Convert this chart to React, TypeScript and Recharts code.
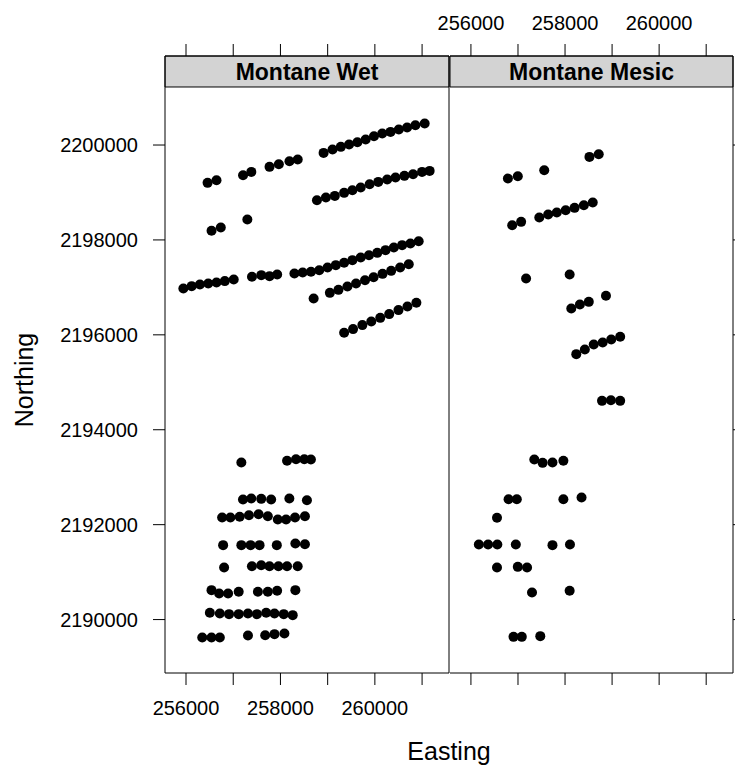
import { ScatterChart, Scatter, XAxis, YAxis, ReferenceArea } from 'recharts'

const X_DOMAIN: [number, number] = [255555, 261570]
const Y_DOMAIN: [number, number] = [2188874, 2201876]
const STRIP_BOTTOM = 2201223
const X_TICKS = [256000, 257000, 258000, 259000, 260000, 261000]
const Y_TICKS = [2190000, 2192000, 2194000, 2196000, 2198000, 2200000]
const PANELS = ['Montane Wet', 'Montane Mesic']

// Montane Wet
const wetEasting = [
  258914, 259103, 259279, 259454, 259630, 259805, 259981, 260156, 260332, 260507, 260683, 260858, 261055,
  256457, 256646, 257208, 257383, 257769, 257966, 258191, 258366,
  258773, 258963, 259152, 259349, 259524, 259700, 259889, 260072, 260261, 260437, 260626, 260809, 260999, 261160,
  256541, 256737, 257299,
  255944, 256120, 256295, 256471, 256646, 256822, 257011,
  257397, 257594, 257769, 257931,
  258296, 258471, 258647, 258822, 258998, 259173, 259349, 259524, 259700, 259875, 260051, 260226, 260402, 260577, 260753, 260928,
  258703,
  259047, 259229, 259419, 259601, 259791, 259973, 260163, 260345, 260535, 260718,
  259349, 259538, 259735, 259924, 260114, 260304, 260500, 260690, 260879,
  257172, 258140, 258330, 258505, 258645,
  257207, 257382, 257593, 257803, 258189, 258561,
  256765, 256940, 257137, 257333, 257537, 257733, 257944, 258119, 258309, 258519,
  256786, 257172, 257368, 257558, 257923, 258316, 258519,
  256807, 257396, 257593, 257768, 257958, 258140, 258365,
  256540, 256702, 256891, 257116, 257523, 257733, 257930, 258316,
  256505, 256716, 256912, 257116, 257312, 257502, 257698, 257874, 258070, 258260,
  256344, 256540, 256716, 257312, 257677, 257874, 258084,
]
const wetNorthing = [
  2199834, 2199905, 2199961, 2200010, 2200059, 2200115, 2200185, 2200242, 2200277, 2200326, 2200368, 2200417, 2200452,
  2199203, 2199259, 2199364, 2199434, 2199540, 2199596, 2199659, 2199694,
  2198838, 2198894, 2198928, 2198992, 2199048, 2199104, 2199174, 2199223, 2199272, 2199314, 2199350, 2199385, 2199434, 2199455,
  2198192, 2198262, 2198430,
  2196977, 2197026, 2197062, 2197083, 2197104, 2197132, 2197167,
  2197223, 2197258, 2197237, 2197272,
  2197293, 2197314, 2197328, 2197363, 2197420, 2197469, 2197518, 2197574, 2197630, 2197679, 2197728, 2197785, 2197841, 2197890, 2197925, 2197974,
  2196767,
  2196885, 2196948, 2197018, 2197081, 2197151, 2197215, 2197285, 2197348, 2197418, 2197489,
  2196044, 2196121, 2196205, 2196282, 2196358, 2196437, 2196521, 2196598, 2196675,
  2193309, 2193345, 2193380, 2193380, 2193373,
  2192530, 2192551, 2192544, 2192530, 2192551, 2192516,
  2192151, 2192151, 2192165, 2192200, 2192221, 2192179, 2192109, 2192109, 2192151, 2192179,
  2191568, 2191568, 2191568, 2191568, 2191568, 2191603, 2191589,
  2191097, 2191125, 2191146, 2191125, 2191125, 2191125, 2191125,
  2190620, 2190549, 2190549, 2190585, 2190585, 2190585, 2190606, 2190620,
  2190142, 2190128, 2190114, 2190114, 2190128, 2190114, 2190142, 2190128, 2190114, 2190093,
  2189622, 2189622, 2189622, 2189664, 2189671, 2189693, 2189707,
]

// Montane Mesic
const mesicEasting = [
  256786, 256996, 257558, 258519, 258716,
  256877, 257067, 257453, 257642, 257825, 258014, 258203, 258400, 258589,
  257172, 258098,
  258133, 258316, 258505, 258870,
  258239, 258421, 258610, 258800, 258982, 259172,
  258786, 258975, 259172,
  257347, 257523, 257733, 257965,
  256800, 256975, 257965, 258351,
  256554,
  256168, 256365, 256561, 256954, 257733, 258105,
  256554, 256996, 257193,
  257298, 258098,
  256905, 257081, 257474,
]
const mesicNorthing = [
  2199294, 2199343, 2199469, 2199750, 2199806,
  2198310, 2198381, 2198472, 2198535, 2198577, 2198626, 2198676, 2198732, 2198788,
  2197187, 2197271,
  2196555, 2196639, 2196695, 2196822,
  2195593, 2195691, 2195796, 2195838, 2195902, 2195958,
  2194609, 2194623, 2194609,
  2193373, 2193302, 2193309, 2193345,
  2192537, 2192537, 2192537, 2192572,
  2192144,
  2191582, 2191582, 2191582, 2191582, 2191568, 2191582,
  2191097, 2191111, 2191097,
  2190570, 2190606,
  2189636, 2189636, 2189651,
]

const toPoints = (xs: number[], ys: number[]) => xs.map((x, i) => ({ x, y: ys[i] }))

const FONT = '"Liberation Sans", Arial, Helvetica, sans-serif'
const tickStyle = { fill: '#000', fontSize: 20 }
const evenLabel = (v: number) => (v % 2000 === 0 ? String(v) : '')
const noLabel = () => ''

const Dot = (props: any) => <circle cx={props.cx} cy={props.cy} r={5} fill="#000" />
const NoDot = () => <g />

function StripLabel({ viewBox, text }: any) {
  const { x, y, width, height } = viewBox
  return (
    <text x={x + width / 2} y={y + height / 2} dy="0.36em" textAnchor="middle"
      fontSize={23} fontWeight="bold" fill="#000" fontFamily={FONT}>
      {text}
    </text>
  )
}

function Panel({ side, title, data }: { side: 'left' | 'right'; title: string; data: { x: number; y: number }[] }) {
  const isLeft = side === 'left'
  const yId = isLeft ? 'l' : 'r'
  return (
    <ScatterChart width={isLeft ? 450 : 356} height={769}
      margin={{ top: 0, right: 0, bottom: 0, left: isLeft ? 0 : 71 }}>
      <XAxis xAxisId="b" type="number" dataKey="x" orientation="bottom" domain={X_DOMAIN} allowDataOverflow
        ticks={X_TICKS} interval={0} height={96} tickSize={12} tickMargin={16} stroke="#000"
        tick={tickStyle} tickFormatter={isLeft ? evenLabel : noLabel} />
      <XAxis xAxisId="t" type="number" dataKey="x" orientation="top" domain={X_DOMAIN} allowDataOverflow
        ticks={X_TICKS} interval={0} height={56} tickSize={12} tickMargin={14} stroke="#000"
        tick={tickStyle} tickFormatter={isLeft ? noLabel : evenLabel} />
      {isLeft ? (
        <YAxis yAxisId="l" type="number" dataKey="y" orientation="left" domain={Y_DOMAIN} allowDataOverflow
          ticks={Y_TICKS} interval={0} width={165} tickSize={12} tickMargin={15} stroke="#000" tick={tickStyle} />
      ) : null}
      <YAxis yAxisId="r" type="number" dataKey="y" orientation="right" domain={Y_DOMAIN} allowDataOverflow
        ticks={isLeft ? [] : Y_TICKS} interval={0} width={isLeft ? 1 : 2} tickSize={12} stroke="#000"
        tick={isLeft ? false : tickStyle} tickLine={!isLeft} tickFormatter={noLabel} />
      <ReferenceArea xAxisId="b" yAxisId={yId} y1={STRIP_BOTTOM} y2={Y_DOMAIN[1]}
        fill="#d3d3d3" fillOpacity={1} stroke="#000" strokeWidth={1}
        label={<StripLabel text={title} />} />
      {/* keeps the top axis and the spare y axis in use so they get scales */}
      <Scatter xAxisId="t" yAxisId={isLeft ? 'r' : yId} data={data} shape={NoDot} isAnimationActive={false} />
      <Scatter xAxisId="b" yAxisId={yId} data={data} shape={Dot} isAnimationActive={false} />
    </ScatterChart>
  )
}

export default function App() {
  return (
    <div style={{ position: 'absolute', left: 0, top: 0, width: 735, height: 769, background: '#fff', fontFamily: FONT, overflow: 'hidden' }}>
      <div style={{ position: 'absolute', left: 0, top: 0 }}>
        <Panel side="left" title={PANELS[0]} data={toPoints(wetEasting, wetNorthing)} />
      </div>
      <div style={{ position: 'absolute', left: 379, top: 0 }}>
        <Panel side="right" title={PANELS[1]} data={toPoints(mesicEasting, mesicNorthing)} />
      </div>
      <svg width={735} height={769} style={{ position: 'absolute', left: 0, top: 0, pointerEvents: 'none' }}>
        <text x={449} y={760} textAnchor="middle" fontSize={25} fill="#000" fontFamily={FONT}>Easting</text>
        <text transform="translate(33,380) rotate(-90)" textAnchor="middle" fontSize={25} fill="#000" fontFamily={FONT}>
          Northing
        </text>
      </svg>
    </div>
  )
}
